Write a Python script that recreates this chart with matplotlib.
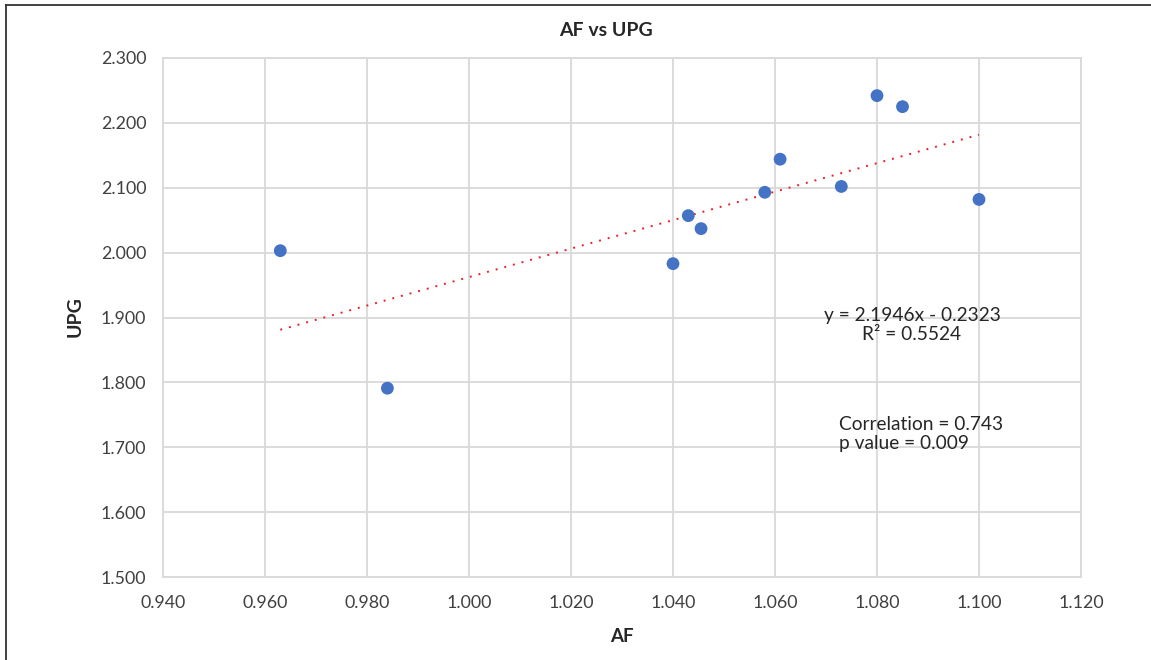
import matplotlib
matplotlib.use("Agg")
import matplotlib.pyplot as plt
from matplotlib.lines import Line2D
import numpy as np

plt.rcParams['font.family'] = ['Lato', 'DejaVu Sans']

# Data
af = [0.963, 0.984, 1.040, 1.043, 1.0455, 1.058, 1.061, 1.073, 1.080, 1.085, 1.100]
upg = [2.003, 1.791, 1.983, 2.057, 2.037, 2.093, 2.144, 2.102, 2.242, 2.225, 2.082]
trend_slope = 2.1946
trend_intercept = -0.2323
x_ticks = [0.94, 0.96, 0.98, 1.00, 1.02, 1.04, 1.06, 1.08, 1.10, 1.12]
y_ticks = [1.5, 1.6, 1.7, 1.8, 1.9, 2.0, 2.1, 2.2, 2.3]

W, H = 1151, 660
fig = plt.figure(figsize=(W / 100, H / 100), dpi=100)
ax = fig.add_axes([163 / W, 1 - 577 / H, (1081 - 163) / W, (577 - 58) / H])

grid_c = '#d9d9d9'
text_c = '#404040'
dark_c = '#262626'

ax.set_xlim(0.94, 1.12)
ax.set_ylim(1.5, 2.3)
ax.set_xticks(x_ticks)
ax.set_yticks(y_ticks)
ax.set_xticklabels([f"{v:.3f}" for v in x_ticks])
ax.set_yticklabels([f"{v:.3f}" for v in y_ticks])
ax.grid(True, color=grid_c, linewidth=1.3)
ax.set_axisbelow(True)
for s in ax.spines.values():
    s.set_color(grid_c)
    s.set_linewidth(1.3)
ax.tick_params(length=0, labelsize=12.8, labelcolor=text_c)
ax.tick_params(axis='x', pad=13)
ax.tick_params(axis='y', pad=12)

# trendline
tx = np.array([min(af), max(af)])
ax.plot(tx, trend_slope * tx + trend_intercept, color='#e8202a',
        linestyle=(0, (1, 3.6)), linewidth=1.4, zorder=2)

ax.scatter(af, upg, s=85, color='#4472c4', zorder=3, edgecolors='none')

fig.text(606 / W, 1 - 30 / H, 'AF vs UPG', ha='center', va='center',
         fontsize=14, fontweight='bold', color=dark_c)
fig.text(622 / W, 1 - 637 / H, 'AF', ha='center', va='center',
         fontsize=13.5, fontweight='bold', color=dark_c)
fig.text(75 / W, 1 - 317 / H, 'UPG', ha='center', va='center', rotation=90,
         fontsize=14, fontweight='bold', color=dark_c)

fig.text(912 / W, 1 - 325 / H, 'y = 2.1946x - 0.2323\nR² = 0.5524',
         ha='center', va='center', multialignment='center',
         fontsize=13.8, color=dark_c, linespacing=1.2)
fig.text(839 / W, 1 - 434 / H, 'Correlation = 0.743\np value = 0.009',
         ha='left', va='center', multialignment='left',
         fontsize=13.8, color=dark_c, linespacing=1.2)

# outer chart border (top and left visible)
fig.add_artist(Line2D([6 / W, 1], [1 - 5 / H, 1 - 5 / H], color='#333333',
                      linewidth=1.3, transform=fig.transFigure))
fig.add_artist(Line2D([6 / W, 6 / W], [0, 1 - 5 / H], color='#333333',
                      linewidth=1.3, transform=fig.transFigure))

fig.savefig('out.png', dpi=100)
